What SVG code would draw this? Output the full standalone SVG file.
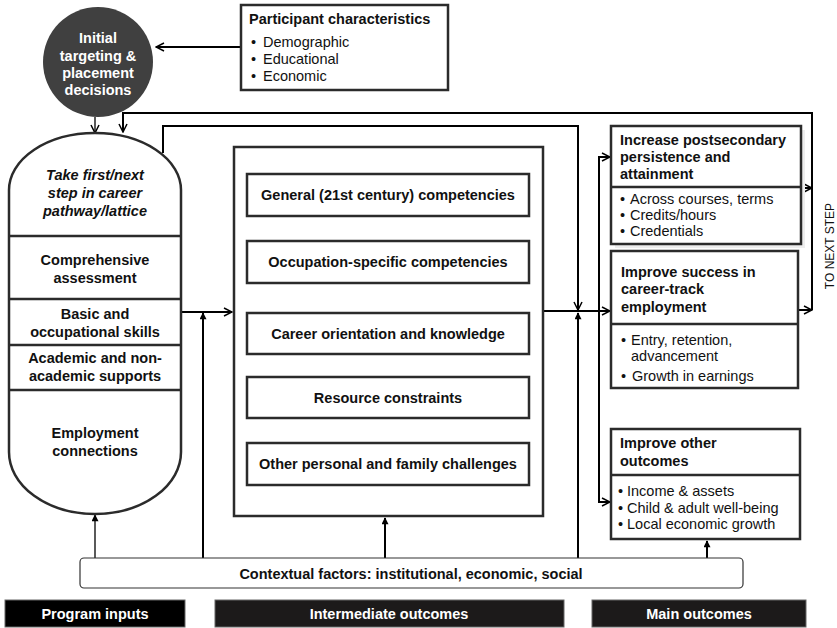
<svg xmlns="http://www.w3.org/2000/svg" width="837" height="628" viewBox="0 0 837 628">
<defs>
<style>
text{font-family:"Liberation Sans",Arial,sans-serif;font-size:14.5px;fill:#111}
.b{font-weight:bold}
.c{text-anchor:middle}
.w{fill:#fff}
.it{font-style:italic}
.box{fill:#fff;stroke:#2b2b2b;stroke-width:2.5}
.div{stroke:#2b2b2b;stroke-width:2.5;fill:none}
.ln{fill:none;stroke:#000;stroke-width:2}
.thin{fill:none;stroke:#000;stroke-width:1.3}
.bar{stroke:#666;stroke-width:1}
</style>
<marker id="op" viewBox="0 0 10 10" refX="9" refY="5" markerWidth="10" markerHeight="10" markerUnits="userSpaceOnUse" orient="auto">
<path d="M1,1 L9,5 L1,9" fill="none" stroke="#000" stroke-width="1.5"/>
</marker>
<marker id="fl" viewBox="0 0 8 8" refX="7" refY="4" markerWidth="8" markerHeight="7" markerUnits="userSpaceOnUse" orient="auto">
<path d="M0,0 L8,4 L0,8 z" fill="#000"/>
</marker>
</defs>
<rect width="837" height="628" fill="#fff"/>

<g id="connectors">
<path class="ln" d="M241,47 H156" marker-end="url(#op)"/>
<path class="thin" d="M95,117 V133" marker-end="url(#op)"/>
<path class="ln" d="M801,188 H812" marker-end="url(#op)"/>
<path class="ln" d="M798,310 H812" marker-end="url(#op)"/>
<path class="ln" d="M812,310 V113 H123 V132" marker-end="url(#op)"/>
<path class="ln" d="M163,153 V126 H578 V310" marker-end="url(#op)"/>
<path class="ln" d="M543,311 H610" marker-end="url(#op)"/>
<path class="ln" d="M599,311 V157 H610" marker-end="url(#op)"/>
<path class="ln" d="M599,311 V502 H610" marker-end="url(#op)"/>
<path class="ln" d="M181,312 H232" marker-end="url(#op)"/>
<path class="ln" d="M578,558 V313" marker-end="url(#fl)"/>
<path class="ln" d="M203,558 V313" marker-end="url(#fl)"/>
<path class="thin" d="M95,558 V515" marker-end="url(#fl)"/>
<path class="ln" d="M385,558 V518" marker-end="url(#fl)"/>
<path class="ln" d="M707,558 V541" marker-end="url(#fl)"/>
</g>

<g id="participant">
<rect class="box" x="241" y="5" width="207" height="85"/>
<text class="b" x="249" y="24">Participant characteristics</text>
<text x="251" y="47">•<tspan x="263">Demographic</tspan></text>
<text x="251" y="64">•<tspan x="263">Educational</tspan></text>
<text x="251" y="81">•<tspan x="263">Economic</tspan></text>
</g>

<g id="initial">
<ellipse cx="98" cy="62" rx="55" ry="55" fill="#404040"/>
<text class="b c w" x="98" y="43">Initial</text>
<text class="b c w" x="98" y="61">targeting &amp;</text>
<text class="b c w" x="98" y="78">placement</text>
<text class="b c w" x="98" y="95">decisions</text>
</g>

<g id="program">
<path class="box" d="M9,190 A86,57 0 0 1 181,190 V452 A86,62 0 0 1 9,452 Z"/>
<path class="div" d="M9,236 H181 M9,299 H181 M9,345 H181 M9,390 H181"/>
<text class="b it c" x="95" y="180">Take first/next</text>
<text class="b it c" x="95" y="198">step in career</text>
<text class="b it c" x="95" y="216">pathway/lattice</text>
<text class="b c" x="95" y="265">Comprehensive</text>
<text class="b c" x="95" y="283">assessment</text>
<text class="b c" x="95" y="319">Basic and</text>
<text class="b c" x="95" y="337">occupational skills</text>
<text class="b c" x="95" y="363">Academic and non-</text>
<text class="b c" x="95" y="381">academic supports</text>
<text class="b c" x="95" y="438">Employment</text>
<text class="b c" x="95" y="456">connections</text>
</g>

<g id="intermediate">
<rect class="box" x="234" y="147" width="309" height="369"/>
<g id="general"><rect class="box" x="247" y="174" width="282" height="42"/><text class="b c" x="388" y="200">General (21st century) competencies</text></g>
<g id="occupation"><rect class="box" x="247" y="241" width="282" height="42"/><text class="b c" x="388" y="267">Occupation-specific competencies</text></g>
<g id="career"><rect class="box" x="247" y="313" width="282" height="41"/><text class="b c" x="388" y="339">Career orientation and knowledge</text></g>
<g id="resource"><rect class="box" x="247" y="377" width="282" height="41"/><text class="b c" x="388" y="403">Resource constraints</text></g>
<g id="other"><rect class="box" x="247" y="443" width="282" height="42"/><text class="b c" x="388" y="469">Other personal and family challenges</text></g>
</g>

<g id="persistence">
<rect x="615" y="130" width="190" height="118" fill="#eeeeee"/>
<rect class="box" x="611" y="126" width="190" height="118"/>
<path class="div" d="M611,187 H801"/>
<text class="b" x="620" y="145">Increase postsecondary</text>
<text class="b" x="620" y="162">persistence and</text>
<text class="b" x="620" y="179">attainment</text>
<text x="620" y="204">•<tspan x="630">Across courses, terms</tspan></text>
<text x="620" y="220">•<tspan x="630">Credits/hours</tspan></text>
<text x="620" y="236">•<tspan x="630">Credentials</tspan></text>
</g>

<g id="employment">
<rect class="box" x="611" y="251" width="187" height="137"/>
<path class="div" d="M611,324 H798"/>
<text class="b" x="621" y="277">Improve success in</text>
<text class="b" x="621" y="294">career-track</text>
<text class="b" x="621" y="312">employment</text>
<text x="621" y="345">•<tspan x="631">Entry, retention,</tspan></text>
<text x="631" y="361">advancement</text>
<text x="621" y="381">•<tspan x="632">Growth in earnings</tspan></text>
</g>

<g id="otheroutcomes">
<rect class="box" x="611" y="429" width="189" height="110"/>
<path class="div" d="M611,475 H800"/>
<text class="b" x="620" y="448">Improve other</text>
<text class="b" x="620" y="466">outcomes</text>
<text x="618" y="496">•<tspan x="627">Income &amp; assets</tspan></text>
<text x="618" y="513">•<tspan x="627">Child &amp; adult well-being</tspan></text>
<text x="618" y="529">•<tspan x="627">Local economic growth</tspan></text>
</g>

<g id="nextstep">
<text x="834" y="246" class="c" style="font-size:12px" transform="rotate(-90 834 246)">TO NEXT STEP</text>
</g>

<g id="context">
<rect x="80" y="558" width="663" height="30" rx="4" fill="#fff" stroke="#333" stroke-width="1.2"/>
<text class="b c" x="411" y="579">Contextual factors: institutional, economic, social</text>
</g>

<g id="legend-inputs">
<rect class="bar" x="5" y="600" width="180" height="27" fill="#000"/>
<text class="b c w" x="95" y="619">Program inputs</text>
</g>
<g id="legend-intermediate">
<rect class="bar" x="215" y="600" width="349" height="27" fill="#1c1a1a"/>
<text class="b c w" x="389" y="619">Intermediate outcomes</text>
</g>
<g id="legend-main">
<rect class="bar" x="592" y="600" width="214" height="27" fill="#1c1a1a"/>
<text class="b c w" x="699" y="619">Main outcomes</text>
</g>
</svg>
